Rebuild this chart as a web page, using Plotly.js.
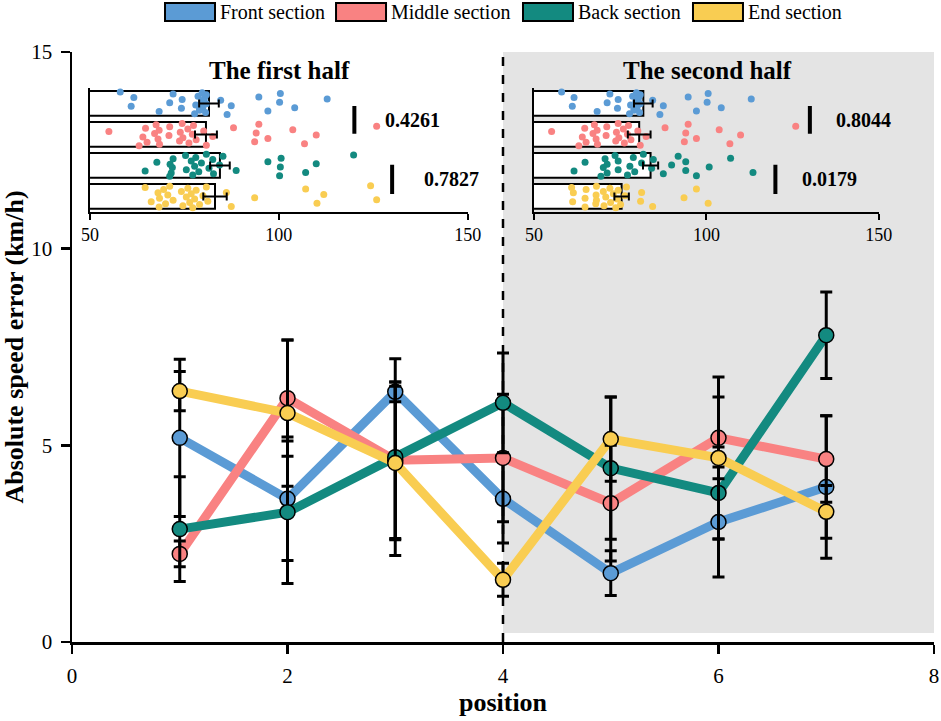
<!DOCTYPE html>
<html>
<head>
<meta charset="utf-8">
<script src="https://cdn.plot.ly/plotly-3.0.1.min.js"></script>
<style>html,body{margin:0;padding:0;background:#fff;}#chart{width:941px;height:721px;}</style>
</head>
<body>
<div id="chart"></div>
<script>
// ---------- main chart data ----------
const positions = [1, 2, 3, 4, 5, 6, 7];
const seriesNames = ['Front section', 'Middle section', 'Back section', 'End section'];
const frontMean  = [5.19, 3.64, 6.36, 3.64, 1.75, 3.05, 3.94];
const frontErr   = [2.00, 1.57, 0.25, 1.12, 0.57, 1.40, 1.81];
const middleMean = [2.24, 6.20, 4.62, 4.68, 3.53, 5.19, 4.65];
const middleErr  = [0.33, 1.48, 1.99, 1.62, 1.47, 1.04, 1.10];
const backMean   = [2.87, 3.30, 4.70, 6.08, 4.42, 3.79, 7.80];
const backErr    = [1.33, 1.81, 2.50, 1.27, 1.81, 1.17, 1.10];
const endMean    = [6.38, 5.82, 4.55, 1.58, 5.16, 4.68, 3.31];
const endErr     = [0.50, 1.86, 1.95, 0.42, 1.07, 2.06, 0.67];
const xTicks = [0, 2, 4, 6, 8];
const yTicks = [0, 5, 10, 15];

// ---------- inset data ----------
const insetCats = ['Front section', 'Middle section', 'Back section', 'End section'];
const insetTicks = [50, 100, 150];
const firstFront  = [58.0,60.9,61.6,68.3,71.1,72.0,74.2,74.4,77.7,78.0,78.6,79.0,79.5,79.7,79.9,80.3,80.6,80.8,80.8,79.0,84.6,86.3,87.4,94.7,97.1,100.2,100.4,104.2,112.8];
const firstMiddle = [55.0,63.0,64.0,64.7,65.1,67.1,67.5,68.0,68.3,68.4,70.9,71.1,73.7,73.9,74.4,74.6,75.9,76.2,77.1,77.4,78.1,80.1,80.8,82.5,88.0,93.6,94.0,94.7,97.1,103.7,106.8,109.9,125.9];
const firstBack   = [64.6,67.7,71.1,71.8,72.0,71.5,71.2,75.3,75.5,76.8,77.2,77.7,78.0,78.8,79.5,80.8,81.5,82.5,82.7,84.3,85.2,88.7,97.1,100.2,100.4,100.6,107.1,109.9,119.8];
const firstEnd    = [64.6,66.2,68.0,68.3,68.4,69.5,70.0,70.6,71.1,72.0,74.2,74.6,75.5,75.9,76.4,76.8,77.2,77.7,78.1,79.0,79.9,80.8,81.2,86.1,87.4,93.6,107.1,110.1,111.9,124.3,125.9];
const firstBarMean = [81.5, 80.7, 84.4, 83.1];
const firstBarSem  = [2.6, 2.9, 2.6, 3.1];
const firstP = ['0.4261', '0.7827'];

const secondFront  = [58.0,61.1,61.6,68.3,71.2,72.0,74.2,74.4,77.7,78.0,78.6,79.0,79.5,79.7,79.9,80.3,80.6,80.8,80.8,79.0,84.4,86.5,87.5,94.7,97.1,100.2,100.5,104.3,113.0];
const secondMiddle = [55.1,63.0,64.0,64.7,65.1,67.1,67.5,68.0,68.3,68.4,70.9,71.1,73.7,73.9,74.4,74.6,75.9,76.2,77.1,77.4,78.1,80.1,80.8,82.5,88.0,93.6,94.0,94.7,97.1,103.7,106.8,109.9,125.9];
const secondBack   = [61.6,64.8,69.4,70.1,70.6,71.2,71.2,73.5,74.4,74.4,77.1,77.8,78.8,79.2,81.2,81.7,84.1,84.6,87.5,89.9,91.8,94.0,94.0,97.1,100.8,107.0,113.5];
const secondEnd    = [60.9,61.2,61.4,64.8,64.8,65.1,67.9,68.0,68.1,68.1,70.1,70.3,70.8,72.0,72.2,73.0,73.7,74.1,74.4,75.1,76.4,76.8,80.9,81.2,84.4,93.5,97.1,100.5];
const secondBarMean = [81.7, 80.5, 83.8, 75.4];
const secondBarSem  = [2.7, 3.3, 2.2, 2.1];
const secondP = ['0.8044', '0.0179'];

// ---------- styles ----------
const colors = ['#5B9BD5', '#F98282', '#138A80', '#F9CD52'];
const FONT = 'Liberation Serif';

const means = [frontMean, middleMean, backMean, endMean];
const errs = [frontErr, middleErr, backErr, endErr];

const traces = [];
// lines first
means.forEach((m, i) => {
  traces.push({type: 'scatter', mode: 'lines', x: positions, y: m, xaxis: 'x', yaxis: 'y',
    line: {color: colors[i], width: 9}, showlegend: false, hoverinfo: 'skip', name: seriesNames[i]});
});
// markers + error bars
means.forEach((m, i) => {
  traces.push({type: 'scatter', mode: 'markers', x: positions, y: m, xaxis: 'x', yaxis: 'y',
    marker: {color: colors[i], size: 15, line: {color: '#000', width: 1.5}},
    error_y: {type: 'data', array: errs[i], color: '#000', thickness: 3, width: 6},
    showlegend: false, name: seriesNames[i]});
});

// deterministic vertical spread of dots within a category band (visual only)
function spread(k, g) {
  const f = (k * 0.6180339887 + g * 0.37) % 1;
  return (f - 0.5) * 0.74;
}
const catIndex = insetCats.map((c, i) => i);

function addInset(xa, ya, groups, barMean, barSem) {
  traces.push({type: 'bar', orientation: 'h', x: barMean, y: catIndex, xaxis: xa, yaxis: ya,
    width: 0.8, marker: {color: '#fff', line: {color: '#000', width: 2}}, showlegend: false,
    text: insetCats, hoverinfo: 'text+x', textposition: 'none'});
  groups.forEach((g, i) => {
    traces.push({type: 'scatter', mode: 'markers', x: g, y: g.map((v, k) => catIndex[i] + spread(k, i)),
      xaxis: xa, yaxis: ya, name: insetCats[i],
      marker: {color: colors[i], size: 7}, showlegend: false, hoverinfo: 'x+name'});
  });
  traces.push({type: 'scatter', mode: 'markers', x: barMean, y: catIndex, xaxis: xa, yaxis: ya,
    marker: {size: 2, opacity: 0}, error_x: {type: 'data', array: barSem, color: '#000', thickness: 2, width: 4},
    showlegend: false, hoverinfo: 'skip'});
}
addInset('x2', 'y2', [firstFront, firstMiddle, firstBack, firstEnd], firstBarMean, firstBarSem);
addInset('x3', 'y3', [secondFront, secondMiddle, secondBack, secondEnd], secondBarMean, secondBarSem);

function insetX(domain, anchor) {
  return {domain: domain, anchor: anchor, range: [50, 150], tickvals: insetTicks, ticks: 'outside',
    ticklen: 6, tickwidth: 2, tickcolor: '#000', showline: true, linecolor: '#000', linewidth: 2,
    showgrid: false, zeroline: false, tickfont: {family: FONT, size: 18, color: '#000'}, fixedrange: true};
}
function insetY(domain, anchor) {
  return {domain: domain, anchor: anchor, range: [3.5, -0.5], showticklabels: false, ticks: '',
    showline: true, linecolor: '#000', linewidth: 2, showgrid: false, zeroline: false, fixedrange: true};
}

const shapes = [
  {type: 'rect', xref: 'x', yref: 'y', x0: 4, x1: 8, y0: 0.23, y1: 15, fillcolor: '#E4E4E4', line: {width: 0}, layer: 'below'},
  {type: 'line', xref: 'x', yref: 'y', x0: 4, x1: 4, y0: 0, y1: 15, line: {color: '#000', width: 2.5, dash: 'dash'}, layer: 'below'},
  // significance bars
  {type: 'line', xref: 'x2', yref: 'y2', x0: 120, x1: 120, y0: 0.08, y1: 0.98, line: {color: '#000', width: 4}},
  {type: 'line', xref: 'x2', yref: 'y2', x0: 130, x1: 130, y0: 1.98, y1: 2.92, line: {color: '#000', width: 4}},
  {type: 'line', xref: 'x3', yref: 'y3', x0: 130, x1: 130, y0: 0.08, y1: 0.98, line: {color: '#000', width: 4}},
  {type: 'line', xref: 'x3', yref: 'y3', x0: 120, x1: 120, y0: 1.98, y1: 2.92, line: {color: '#000', width: 4}}
];

const annotations = [
  {xref: 'paper', yref: 'paper', x: 0.241, y: 0.969, text: '<b>The first half</b>', showarrow: false,
    font: {family: FONT, size: 25, color: '#000'}, xanchor: 'center', yanchor: 'middle'},
  {xref: 'paper', yref: 'paper', x: 0.737, y: 0.969, text: '<b>The second half</b>', showarrow: false,
    font: {family: FONT, size: 25, color: '#000'}, xanchor: 'center', yanchor: 'middle'},
  {xref: 'x2', yref: 'y2', x: 127.5, y: 0.53, text: '<b>' + firstP[0] + '</b>', showarrow: false, xanchor: 'left', yanchor: 'middle', font: {family: FONT, size: 20, color: '#000'}},
  {xref: 'x2', yref: 'y2', x: 137.8, y: 2.44, text: '<b>' + firstP[1] + '</b>', showarrow: false, xanchor: 'left', yanchor: 'middle', font: {family: FONT, size: 20, color: '#000'}},
  {xref: 'x3', yref: 'y3', x: 137, y: 0.53, text: '<b>' + secondP[0] + '</b>', showarrow: false, xanchor: 'left', yanchor: 'middle', font: {family: FONT, size: 20, color: '#000'}},
  {xref: 'x3', yref: 'y3', x: 127.1, y: 2.44, text: '<b>' + secondP[1] + '</b>', showarrow: false, xanchor: 'left', yanchor: 'middle', font: {family: FONT, size: 20, color: '#000'}}
];

// manual legend (rectangular swatches)
const legendX = [0.1079, 0.3063, 0.5232, 0.7204];
const swatchW = 0.058;
seriesNames.forEach((n, i) => {
  shapes.push({type: 'rect', xref: 'paper', yref: 'paper', x0: legendX[i], x1: legendX[i] + swatchW,
    y0: 1.0525, y1: 1.083, fillcolor: colors[i], line: {color: '#000', width: 2}});
  annotations.push({xref: 'paper', yref: 'paper', x: legendX[i] + swatchW + 0.004, y: 1.068, text: n,
    showarrow: false, xanchor: 'left', yanchor: 'middle', font: {family: FONT, size: 20, color: '#000'}});
});

const layout = {
  width: 941, height: 721,
  margin: {l: 72, r: 7, t: 52, b: 79},
  paper_bgcolor: '#fff', plot_bgcolor: 'rgba(0,0,0,0)',
  showlegend: false,
  font: {family: FONT, color: '#000'},
  xaxis: {domain: [0, 1], anchor: 'y', range: [0, 8], tickvals: xTicks, ticks: 'outside', ticklen: 9, tickwidth: 2.5,
    tickcolor: '#000', showline: true, linecolor: '#000', linewidth: 2.5, showgrid: false, zeroline: false,
    tickfont: {family: FONT, size: 21, color: '#000'}, ticklabelstandoff: 4,
    title: {text: '<b>position</b>', font: {family: FONT, size: 26, color: '#000'}, standoff: 6}, fixedrange: true},
  yaxis: {domain: [0, 1], anchor: 'x', range: [0, 15], tickvals: yTicks, ticks: 'outside', ticklen: 9, tickwidth: 2.5,
    tickcolor: '#000', showline: true, linecolor: '#000', linewidth: 2.5, showgrid: false, zeroline: false,
    tickfont: {family: FONT, size: 21, color: '#000'}, ticklabelstandoff: 4,
    title: {text: '<b>Absolute speed error (km/h)</b>', font: {family: FONT, size: 26, color: '#000'}, standoff: 8}, fixedrange: true},
  xaxis2: insetX([0.0209, 0.459], 'y2'),
  yaxis2: insetY([0.729, 0.939], 'x2'),
  xaxis3: insetX([0.536, 0.936], 'y3'),
  yaxis3: insetY([0.729, 0.939], 'x3'),
  shapes: shapes,
  annotations: annotations
};

Plotly.newPlot('chart', traces, layout, {displayModeBar: false, staticPlot: true});
</script>
</body>
</html>
